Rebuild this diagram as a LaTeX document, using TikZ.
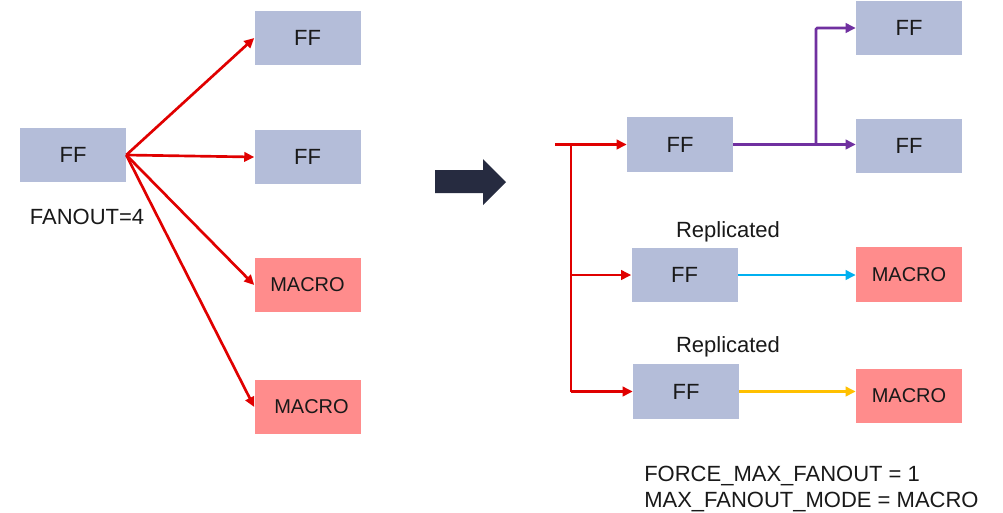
\documentclass[tikz,border=0pt]{standalone}
\usepackage{fontspec}
\setmainfont{Liberation Sans}
\usetikzlibrary{arrows.meta}
\definecolor{ffblue}{HTML}{B4BDD9}
\definecolor{macrored}{HTML}{FF8C8C}
\definecolor{wirered}{HTML}{E00000}
\definecolor{wirepurple}{HTML}{7030A0}
\definecolor{wirecyan}{HTML}{00B0F0}
\definecolor{wireyellow}{HTML}{FFC000}
\definecolor{bigarrowcol}{HTML}{262B40}
\begin{document}
\begin{tikzpicture}[x=0.75pt,y=-0.75pt,
  ffbox/.style={fill=ffblue, inner sep=0pt, minimum width=79.5pt, minimum height=41pt, font=\fontsize{16.5}{19}\selectfont, text=black!90},
  macbox/.style={fill=macrored, inner sep=0pt, minimum width=79.5pt, minimum height=41pt, font=\fontsize{15}{18}\selectfont, text=black!90},
  lbl/.style={inner sep=0pt, font=\fontsize{16.5}{19}\selectfont, text=black!90},
  wire/.style={line width=2pt, -{Triangle[length=7.5pt,width=7pt]}},
  bus/.style={line width=2pt, color=wirered}
]
\useasboundingbox[fill=white] (0,0) rectangle (1003,512);

% left side
\node[ffbox] (src) at (73,155) {FF\hspace{8pt}};
\node[ffbox] (lff1) at (307.5,38) {FF\hspace{6pt}};
\node[ffbox] (lff2) at (307.5,157) {FF\hspace{6pt}};
\node[macbox] (lmac1) at (307.5,285) {MACRO\hspace{3pt}};
\node[macbox] (lmac2) at (307.5,407) {\hspace{6pt}MACRO};
\node[lbl] (fanout) at (87,217) {FANOUT=4};

\foreach \t in {lff1,lff2,lmac1,lmac2}
  \draw[wire, wirered] (src.east) -- (\t.west);

% big arrow
\fill[bigarrowcol] (435,170) -- (483,170) -- (483,159) -- (506,182) -- (483,205) -- (483,193) -- (435,193) -- cycle;

% right side
\node[ffbox] (rffa) at (680,144.5) {FF\hspace{8pt}};
\node[ffbox] (rfftop) at (909,28) {FF\hspace{8pt}};
\node[ffbox] (rffmid) at (909,146) {FF\hspace{8pt}};
\node[ffbox] (rffb) at (684.5,275) {FF\hspace{8pt}};
\node[macbox] (rmacb) at (909,274.5) {MACRO\hspace{10pt}};
\node[ffbox] (rffc) at (686,391.5) {FF\hspace{8pt}};
\node[macbox] (rmacc) at (909,396) {MACRO\hspace{10pt}};
\node[lbl] (rep1) at (728,232) {Replicated};
\node[lbl] (rep2) at (728,347) {Replicated};
\node[lbl, anchor=base west] (cfg1) at (644,481) {FORCE\_MAX\_FANOUT = 1};
\node[lbl, anchor=base west] (cfg2) at (644,507) {MAX\_FANOUT\_MODE = MACRO};

\coordinate (in) at (555,144.5);
\coordinate (busTop) at (571,144.5);
\draw[wire, wirered] (in) -- (rffa.west);
\draw[bus] (busTop) -- (busTop |- rffc.west);
\draw[wire, wirered] (busTop |- rffb.west) -- (rffb.west);
\draw[wire, wirered] (busTop |- rffc.west) -- (rffc.west);

\coordinate (split) at (816,144.5);
\draw[wire, wirepurple] (rffa.east) -- (rffa.east -| rffmid.west);
\draw[wire, wirepurple, rounded corners=1pt] (split) |- (rfftop.west);

\draw[wire, wirecyan] (rffb.east) -- (rffb.east -| rmacb.west);
\draw[wire, wireyellow] (rffc.east) -- (rffc.east -| rmacc.west);
\end{tikzpicture}
\end{document}
